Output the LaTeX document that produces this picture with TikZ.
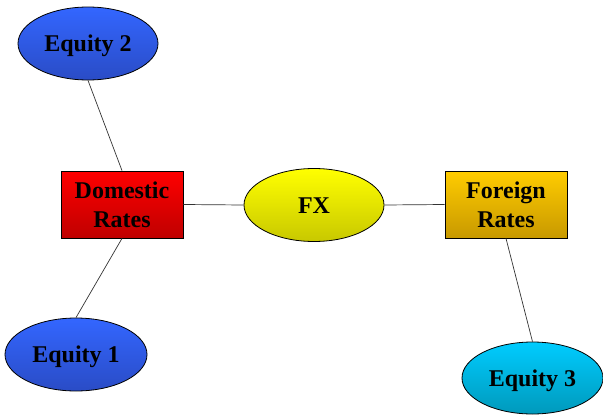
\documentclass[tikz,border=0pt]{standalone}
\usepackage{fontspec}
\setmainfont{Liberation Serif}
\usetikzlibrary{shapes.geometric}
\definecolor{blueT}{HTML}{3366FF}
\definecolor{blueB}{HTML}{2A4CC6}
\definecolor{redT}{HTML}{FF0000}
\definecolor{redB}{HTML}{BF0000}
\definecolor{yelT}{HTML}{FFFF00}
\definecolor{yelB}{HTML}{C8C800}
\definecolor{orT}{HTML}{FFCC00}
\definecolor{orB}{HTML}{C89900}
\definecolor{cyT}{HTML}{00CCFF}
\definecolor{cyB}{HTML}{0099BB}
\tikzset{
  lbl/.style={font=\fontsize{24}{29}\selectfont\bfseries, align=center, inner sep=0pt, draw=black, line width=0.8pt},
  ell/.style={lbl, ellipse, minimum width=140pt, minimum height=73pt, text height=21pt, text depth=5pt},
  box/.style={lbl, rectangle, minimum width=122pt, minimum height=67pt},
  link/.style={black!80, line width=0.7pt}
}
\begin{document}
\begin{tikzpicture}[x=1pt,y=-1pt]
\useasboundingbox (0,0) rectangle (603,415);
\node[ell, top color=blueT, bottom color=blueB] (eq2) at (88,43.5) {Equity 2};
\node[box, top color=redT, bottom color=redB] (dom) at (122,204.5) {Domestic\\Rates};
\node[ell, top color=yelT, bottom color=yelB] (fx) at (314,205) {FX};
\node[box, top color=orT, bottom color=orB] (for) at (506,204.5) {Foreign\\Rates};
\node[ell, top color=blueT, bottom color=blueB, minimum width=142pt] (eq1) at (76,354.5) {Equity 1};
\node[ell, top color=cyT, bottom color=cyB, minimum width=141pt, minimum height=72pt] (eq3) at (532.5,378) {Equity 3};
\draw[link] (eq2.south) -- (dom.north);
\draw[link] (dom.south) -- (eq1.north);
\draw[link] (dom.east) -- (fx.west);
\draw[link] (fx.east) -- (for.west);
\draw[link] (for.south) -- (eq3.north);
\end{tikzpicture}
\end{document}
